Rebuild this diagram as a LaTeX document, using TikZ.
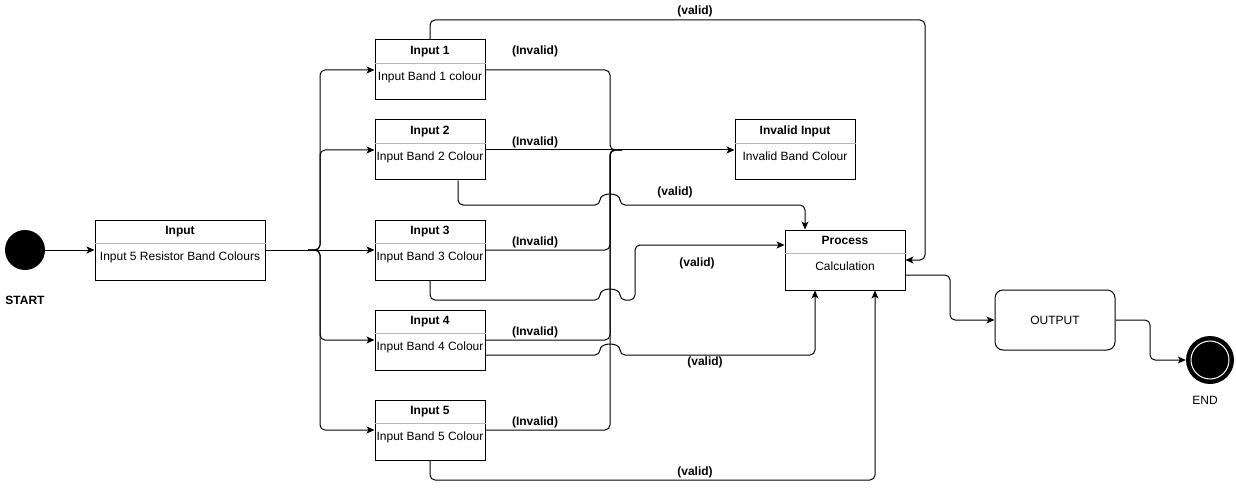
\documentclass[tikz,border=0pt]{standalone}
\usepackage{fontspec}
\setmainfont{Liberation Sans}
\usetikzlibrary{calc,arrows.meta}
\begin{document}
\begin{tikzpicture}[x=1pt,y=-1pt,
  every node/.style={font=\fontsize{12}{14}\selectfont, text height=8.6pt, text depth=0pt},
  box/.style={draw, line width=1pt, minimum width=110pt, minimum height=60pt, inner sep=0pt},
  ttl/.style={font=\fontsize{12}{14}\selectfont\bfseries, inner sep=0pt},
  bdy/.style={inner sep=0pt},
  sep/.style={draw=gray!55, line width=1pt},
  lbl/.style={font=\fontsize{12}{14}\selectfont\bfseries, inner sep=0pt},
  conn/.style={line width=1pt, rounded corners=5pt},
  arr/.style={conn, -{Stealth[length=8pt,width=7pt,inset=2pt]}},
]
\fill[white] (0,0) rectangle (1236,489);
\useasboundingbox (0,0) rectangle (1236,489);

% start / end
\node[circle, fill=black, minimum size=40pt, inner sep=0pt] (start) at (25,250) {};
\node[lbl] (startl) at (25,300) {START};
\node[circle, fill=black, minimum size=48pt, inner sep=0pt] (endn) at (1210,360) {};
\draw[white, line width=1pt] (endn.center) circle[radius=19pt];
\node[inner sep=0pt] (endl) at (1205,400) {END};

% Input
\node[box, minimum width=170pt] (inp) at (180,250) {};
\draw[sep] ($(inp.north west)+(0,24)$) -- ($(inp.north east)+(0,24)$);
\node[ttl] (inpt) at ($(inp.north)+(0,11)$) {Input};
\node[bdy] (inpb) at ($(inp.north)+(0,37)$) {Input 5 Resistor Band Colours};

% Input 1..5
\node[box] (in1) at (430,70) {};
\draw[sep] ($(in1.north west)+(0,24)$) -- ($(in1.north east)+(0,24)$);
\node[ttl] (in1t) at ($(in1.north)+(0,11)$) {Input 1};
\node[bdy] (in1b) at ($(in1.north)+(0,37)$) {Input Band 1 colour};

\node[box] (in2) at (430,150) {};
\draw[sep] ($(in2.north west)+(0,24)$) -- ($(in2.north east)+(0,24)$);
\node[ttl] (in2t) at ($(in2.north)+(0,11)$) {Input 2};
\node[bdy] (in2b) at ($(in2.north)+(0,37)$) {Input Band 2 Colour};

\node[box] (in3) at (430,250) {};
\draw[sep] ($(in3.north west)+(0,24)$) -- ($(in3.north east)+(0,24)$);
\node[ttl] (in3t) at ($(in3.north)+(0,11)$) {Input 3};
\node[bdy] (in3b) at ($(in3.north)+(0,37)$) {Input Band 3 Colour};

\node[box] (in4) at (430,340) {};
\draw[sep] ($(in4.north west)+(0,24)$) -- ($(in4.north east)+(0,24)$);
\node[ttl] (in4t) at ($(in4.north)+(0,11)$) {Input 4};
\node[bdy] (in4b) at ($(in4.north)+(0,37)$) {Input Band 4 Colour};

\node[box] (in5) at (430,430) {};
\draw[sep] ($(in5.north west)+(0,24)$) -- ($(in5.north east)+(0,24)$);
\node[ttl] (in5t) at ($(in5.north)+(0,11)$) {Input 5};
\node[bdy] (in5b) at ($(in5.north)+(0,37)$) {Input Band 5 Colour};

% Invalid Input
\node[box, minimum width=120pt] (inv) at (795,150) {};
\draw[sep] ($(inv.north west)+(0,24)$) -- ($(inv.north east)+(0,24)$);
\node[ttl] (invt) at ($(inv.north)+(0,11)$) {Invalid Input};
\node[bdy] (invb) at ($(inv.north)+(0,37)$) {Invalid Band Colour};

% Process
\node[box, minimum width=120pt] (proc) at (845,260) {};
\draw[sep] ($(proc.north west)+(0,24)$) -- ($(proc.north east)+(0,24)$);
\node[ttl] (proct) at ($(proc.north)+(0,11)$) {Process};
\node[bdy] (procb) at ($(proc.north)+(0,37)$) {Calculation};

% Output
\node[draw, line width=1pt, rounded corners=8pt, minimum width=120pt, minimum height=60pt, inner sep=0pt] (out) at (1055,320) {OUTPUT};

% junction points
\coordinate (fan) at (308,250);
\coordinate (merge) at (622,150);

% connectors: start -> input -> fan out
\draw[arr] (start) -- (inp);
\draw[arr] (inp.east) -- (in3.west);
\draw[arr] (fan) -- (320,250) -- (320,70) -- (in1.west);
\draw[arr] (fan) -- (320,250) -- (320,150) -- (in2.west);
\draw[arr] (fan) -- (320,250) -- (320,340) -- (in4.west);
\draw[arr] (fan) -- (320,250) -- (320,430) -- (in5.west);

% invalid connectors
\draw[arr] (in2.east) -- (inv.west);
\draw[conn] (in1.east) -- (610,70) -- (610,150) -- (merge);
\draw[conn] (in3.east) -- (610,250) -- (610,150) -- (merge);
\draw[conn] (in4.east) -- (610,340) -- (610,150) -- (merge);
\draw[conn] (in5.east) -- (610,430) -- (610,150) -- (merge);

% valid connectors
\draw[arr] (in1.north) -- (430,20) -- (925,20) -- (925,260) -- (proc.east);
\draw[arr] ($(in2.south)+(28,0)$) -- (458,205) -- (600,205)
   .. controls (600,192) and (620,192) .. (620,205) -- (805,205) -- ($(proc.north)+(-40,0)$);
\draw[arr] (in3.south) -- (430,300) -- (600,300)
   .. controls (600,287) and (620,287) .. (620,300) -- (635,300) -- (635,245) -- ($(proc.west)+(0,-15)$);
\draw[arr] ($(in4.east)+(0,15)$) -- (600,355)
   .. controls (600,342) and (620,342) .. (620,355) -- (815,355) -- ($(proc.south)+(-30,0)$);
\draw[arr] (in5.south) -- (430,480) -- (875,480) -- ($(proc.south)+(30,0)$);

% process -> output -> end
\draw[arr] ($(proc.east)+(0,15)$) -- (950,275) -- (950,320) -- (out.west);
\draw[arr] (out.east) -- (1150,320) -- (1150,360) -- (endn.west);

% labels
\node[lbl] (lv1) at (695,10) {(valid)};
\node[lbl] (li1) at (535,50) {(Invalid)};
\node[lbl] (li2) at (535,141) {(Invalid)};
\node[lbl] (li3) at (535,241) {(Invalid)};
\node[lbl] (li4) at (535,331) {(Invalid)};
\node[lbl] (li5) at (535,421) {(Invalid)};
\node[lbl] (lv2) at (675,191) {(valid)};
\node[lbl] (lv3) at (697,262) {(valid)};
\node[lbl] (lv4) at (705,361) {(valid)};
\node[lbl] (lv5) at (695,471) {(valid)};
\end{tikzpicture}
\end{document}
